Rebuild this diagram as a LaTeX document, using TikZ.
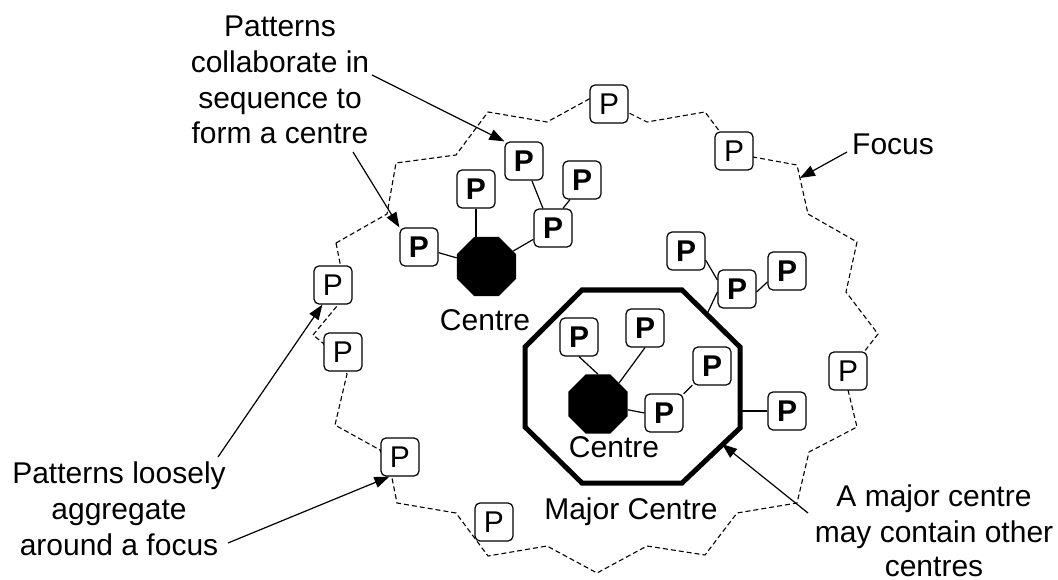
\documentclass[tikz,border=0pt]{standalone}
\usepackage{fontspec}
\setmainfont{Liberation Sans}
\usetikzlibrary{shapes.geometric,arrows.meta}
\begin{document}
\begin{tikzpicture}[x=1pt,y=-1pt,
  pbox/.style={draw,line width=1.2pt,rounded corners=5pt,fill=white,
    minimum width=38pt,minimum height=38pt,inner sep=0pt,
    font=\fontsize{30}{36}\selectfont},
  pbold/.style={pbox,font=\fontsize{30}{36}\selectfont\bfseries},
  hub/.style={regular polygon,regular polygon sides=8,minimum size=64pt,
    fill=black,inner sep=0pt},
  link/.style={line width=1.2pt},
  callout/.style={line width=1.2pt,-{Triangle[length=15pt,width=11pt]}},
  focusline/.style={line width=1.1pt,dash pattern=on 5pt off 3pt},
  lbl/.style={anchor=base,inner sep=0pt,font=\fontsize{30}{36}\selectfont}]
\useasboundingbox (0,0) rectangle (1058,580);

% the focus: a jagged dashed outline
\draw[focusline] (336,243) -- (387,214) -- (396,163) -- (456,155) -- (488,112)
  -- (547,122) -- (591,98) -- (629,113) -- (647,122) -- (705,112) -- (720,132)
  -- (753,157) -- (797,165) -- (808,214) -- (857,242) -- (846,292) -- (878,334)
  -- (864,352) -- (848,390) -- (857,427) -- (809,452) -- (797,503) -- (737,513)
  -- (705,555) -- (647,546) -- (597,573) -- (547,546) -- (488,556) -- (456,513)
  -- (397,503) -- (392,478) -- (380,450) -- (335,425) -- (347,374) -- (323,343)
  -- (313,335) -- (337,306) -- (340,263) -- cycle;
\coordinate (focustip) at (800,178);

% the major centre
\draw[line width=5pt,line join=miter,fill=white] (582,290) -- (682,290)
  -- (740,347) -- (740,428) -- (682,483) -- (582,483) -- (525,427)
  -- (525,347) -- cycle;
\coordinate (majNE) at (707,314);
\coordinate (majE) at (740,411);
\coordinate (majtip) at (722,444);

% centres
\node[hub] (c1) at (486.5,266.5) {};
\node[hub] (c2) at (598,404) {};

% patterns in the first centre
\node[pbold] (pa) at (524,161) {P};
\node[pbold] (pb) at (553,228) {P};
\node[pbold] (pc) at (582,180) {P};
\node[pbold] (pd) at (476,189) {P};
\node[pbold] (pe) at (419,247) {P};

% patterns attached to the major centre
\node[pbold] (pf) at (686,251) {P};
\node[pbold] (pg) at (737,289) {P};
\node[pbold] (ph) at (787,271) {P};
\node[pbold] (pi) at (787,411) {P};

% patterns inside the major centre
\node[pbold] (pj) at (579,337) {P};
\node[pbold] (pk) at (645,328) {P};
\node[pbold] (pl) at (712,366) {P};
\node[pbold] (pm) at (664,413) {P};

% patterns on the focus
\node[pbox] (f1) at (609,104) {P};
\node[pbox] (f2) at (734,151) {P};
\node[pbox] (f3) at (848,371) {P};
\node[pbox] (f4) at (494,522) {P};
\node[pbox] (f5) at (400,457) {P};
\node[pbox] (f6) at (343,352) {P};
\node[pbox] (f7) at (333,285) {P};

% links
\draw[link] (pe) -- (c1);
\draw[link] (pd.south) -- (pd.south |- c1.north);
\draw[link] (pb) -- (c1);
\draw[link] ([xshift=-10pt]pb.north) -- (pa);
\draw[link] ([xshift=10pt]pb.north) -- ([xshift=-12pt]pc.south);
\draw[link] ([yshift=-9pt]pf.east) -- ([yshift=9pt]pg.west);
\draw[link] ([yshift=-11pt]ph.west) -- ([yshift=-3pt]pg.east);
\draw[link] ([yshift=-3pt]pg.west) -- (majNE);
\draw[link] (pi.west) -- (pi.west -| majE);
\draw[link] (pj.south) -- (c2.north);
\draw[link] (pk.south) -- (c2.45);
\draw[link] (pm.west) -- (c2);
\draw[link] (pl) -- (pm);

% labels
\node[lbl] (t1) at (280,37) {Patterns};
\node[lbl] (t2) at (280,72.7) {collaborate in};
\node[lbl] (t3) at (280,108.4) {sequence to};
\node[lbl] (t4) at (280,144) {form a centre};
\node[lbl] (u1) at (119,483) {Patterns loosely};
\node[lbl] (u2) at (119,519) {aggregate};
\node[lbl] (u3) at (119,555) {around a focus};
\node[lbl] (v1) at (934,506) {A major centre};
\node[lbl] (v2) at (934,542) {may contain other};
\node[lbl] (v3) at (934,576) {centres};
\node[lbl,anchor=base west] (focus) at (852,155) {Focus};
\node[lbl] (lc1) at (485,330) {Centre};
\node[lbl] (lc2) at (614,457) {Centre};
\node[lbl] (lmaj) at (631,519) {Major Centre};

% callout arrows
\coordinate (s1) at (372,75);
\coordinate (s2) at (353,152);
\coordinate (s3) at (218,457);
\coordinate (s4) at (228,543);
\coordinate (s5) at (847,152);
\coordinate (s6) at (808,513);
\draw[callout] (s1) -- (pa.north west);
\draw[callout] (s2) -- (pe.north west);
\draw[callout] (s3) -- ([xshift=9pt]f7.south west);
\draw[callout] (s4) -- ([xshift=9pt]f5.south west);
\draw[callout] (s5) -- (focustip);
\draw[callout] (s6) -- (majtip);
\end{tikzpicture}
\end{document}
